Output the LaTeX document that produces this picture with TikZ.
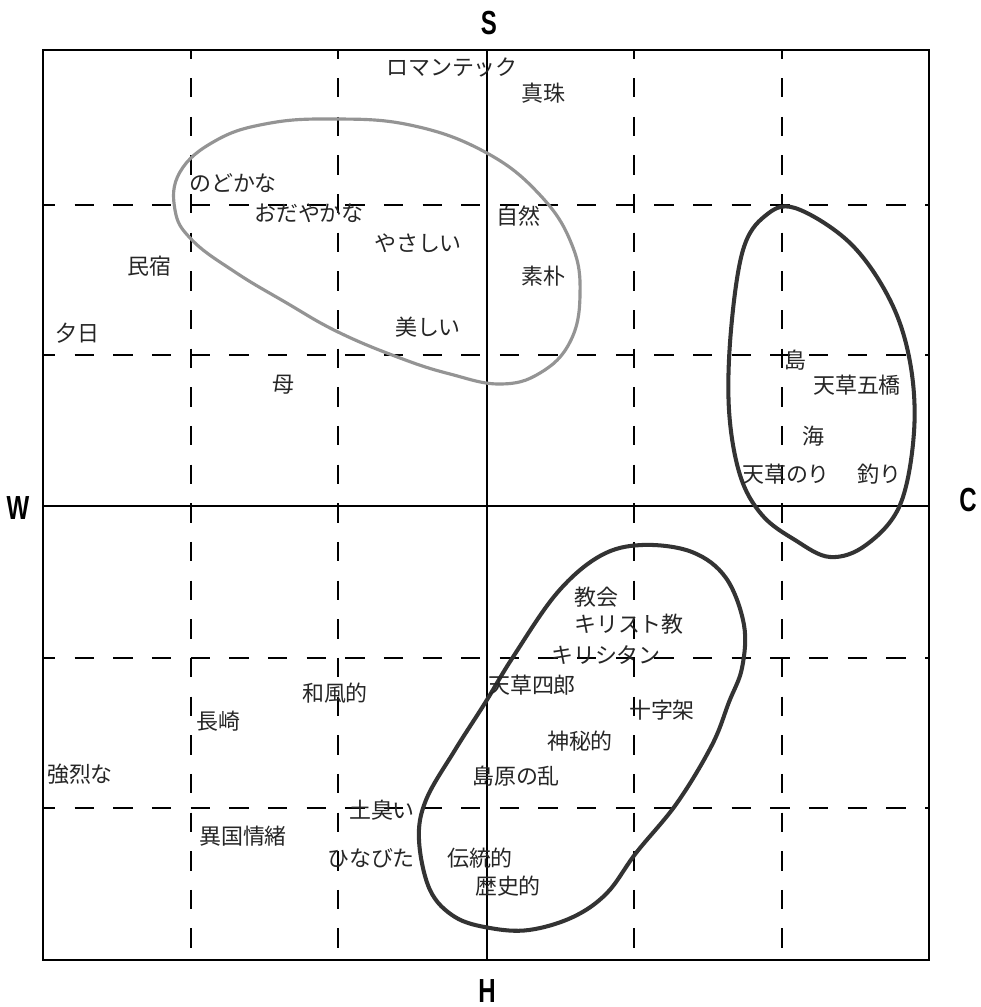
\documentclass[tikz,border=0pt]{standalone}
\usepackage{fontspec}
\newfontfamily\jp{Noto Sans CJK JP}
\newfontfamily\lat[BoldFont={Liberation Sans Bold}]{Liberation Sans}
\begin{document}
\begin{tikzpicture}[x=0.02cm,y=-0.02cm,
  lbl/.style={font=\jp\fontsize{12.5}{14}\selectfont, inner sep=0pt, text=black!85},
  axis/.style={font=\lat\bfseries\fontsize{19}{21}\selectfont, inner sep=0pt, xscale=0.72},
  frame/.style={line width=1.6pt, black},
  midline/.style={line width=1.2pt, black},
  gridline/.style={line width=1.5pt, black, dash pattern=on 11pt off 11pt},
  lightloop/.style={line width=1.8pt, black!42},
  darkloop/.style={line width=2.3pt, black!80}]
\useasboundingbox (0,0) rectangle (980,1007);
\fill[white] (0,0) rectangle (980,1007);
% dashed grid
\foreach \gx in {191,338,634,782} \draw[gridline, dash phase=6pt] (\gx,50) -- (\gx,960);
\foreach \gy in {205,355,658,808} \draw[gridline, dash phase=4pt] (43,\gy) -- (929,\gy);
% center lines
\draw[midline] (487,50) -- (487,960);
\draw[midline] (43,506) -- (929,506);
% frame
\draw[frame] (43,50) rectangle (929,960);
% axis letters
\node[axis] (S) at (489,23) {S};
\node[axis] (W) at (18,508) {W};
\node[axis] (C) at (968,500) {C};
\node[axis] (H) at (487,991) {H};
% loops
\draw[lightloop] plot[smooth cycle, tension=0.7] coordinates {
 (330,119) (410,125) (485,152) (540,195) (572,245) (580,295) (570,342) (540,373)
 (500,384) (450,374) (400,358) (338,332) (285,302) (235,272) (192,240) (175,210) (180,172) (215,141) (265,124)};
\draw[darkloop] plot[smooth cycle, tension=0.6] coordinates {
 (795,208) (850,243) (890,300) (910,362) (914,432) (900,505) (866,545) (830,557)
 (795,540) (762,515) (740,475) (729,410) (731,330) (743,250) (765,216)};
\draw[darkloop] plot[smooth cycle, tension=0.6] coordinates {
 (642,545) (692,552) (726,578) (744,625) (742,668) (729,702) (712,745) (677,803)
 (636,853) (607,893) (573,917) (529,930) (490,928) (455,917) (430,890) (419,840)
 (426,800) (455,750) (485,703) (513,657) (557,593) (600,556)};
% labels
\node[lbl] (romantic) at (452,67) {ロマンテック};
\node[lbl] (shinju) at (543,93) {真珠};
\node[lbl] (nodoka) at (233,183) {のどかな};
\node[lbl] (odayaka) at (309,213) {おだやかな};
\node[lbl] (shizen) at (518,216) {自然};
\node[lbl] (yasashii) at (418,243) {やさしい};
\node[lbl] (minshuku) at (149,266) {民宿};
\node[lbl] (soboku) at (543,276) {素朴};
\node[lbl] (yuhi) at (77,333) {夕日};
\node[lbl] (utsukushii) at (428,327) {美しい};
\node[lbl] (haha) at (283,385) {母};
\node[lbl] (shima) at (795,360) {島};
\node[lbl] (gokyo) at (857,385) {天草五橋};
\node[lbl] (umi) at (813,436) {海};
\node[lbl] (nori) at (786,474) {天草のり};
\node[lbl] (tsuri) at (879,474) {釣り};
\node[lbl] (kyokai) at (596,597) {教会};
\node[lbl] (kirisuto) at (629,624) {キリスト教};
\node[lbl] (kirishitan) at (606,655) {キリシタン};
\node[lbl] (shiro) at (532,685) {天草四郎};
\node[lbl] (wafu) at (335,693) {和風的};
\node[lbl] (jujika) at (662,710) {十字架};
\node[lbl] (nagasaki) at (218,721) {長崎};
\node[lbl] (shinpi) at (580,741) {神秘的};
\node[lbl] (kyoretsu) at (80,774) {強烈な};
\node[lbl] (ran) at (516,776) {島原の乱};
\node[lbl] (tsuchi) at (382,810) {土臭い};
\node[lbl] (ikoku) at (243,836) {異国情緒};
\node[lbl] (hinabita) at (371,858) {ひなびた};
\node[lbl] (dento) at (480,858) {伝統的};
\node[lbl] (rekishi) at (508,886) {歴史的};
\end{tikzpicture}
\end{document}
